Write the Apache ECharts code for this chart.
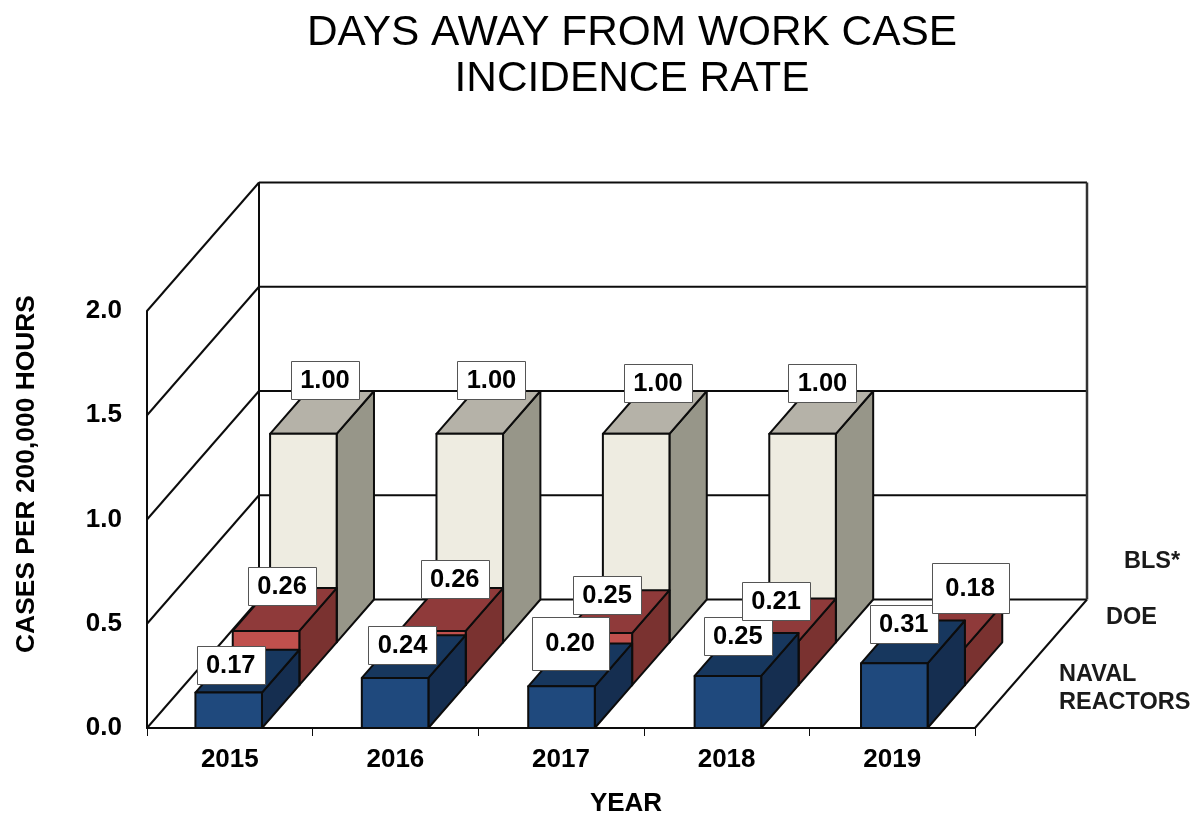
<!DOCTYPE html>
<html>
<head>
<meta charset="utf-8">
<style>html,body{margin:0;padding:0;background:#fff}#c{width:1198px;height:814px}</style>
<script src="https://cdn.jsdelivr.net/npm/echarts@6/dist/echarts.min.js"></script>
</head>
<body>
<div id="c"></div>
<script>
var categories = ['2015', '2016', '2017', '2018', '2019'];
var navalValues = [0.17, 0.24, 0.20, 0.25, 0.31];
var doeValues = [0.26, 0.26, 0.25, 0.21, 0.18];
var blsValues = [1.00, 1.00, 1.00, 1.00, null];
var gridValues = [0, 0.5, 1, 1.5, 2];

// label box placement, relative to the top front centre of each bar: [dx, dy, width, height]
var navalBoxes = [[2, -28, 68, 38], [7.4, -33.3, 68, 38], [8.5, -43.3, 77, 53], [10, -40, 68, 38], [9.4, -39.4, 68, 38]];
var doeBoxes = [[16, -45, 68, 38], [22.3, -52, 68, 38], [8.2, -38, 68, 38], [10.8, -40, 68, 38], [38.4, -60, 77, 50]];
var blsBoxes = [[21.6, -54, 68, 38], [21.7, -54, 68, 38], [21.8, -51, 68, 38], [19.9, -51, 68, 38], [0, 0, 68, 38]];

var FONT = '"Liberation Sans", Arial, sans-serif';
var DEPTH_X = 112, DEPTH_Y = -128.5, ROWS = 3, BAR_FRACTION = 0.4;
var INK = '#0c0c0c';

function wallItem(params, api) {
  var v = api.value(1);
  var band = api.size([1, 0])[0];
  var p0 = api.coord([0, v]);
  var pN = api.coord([categories.length - 1, v]);
  var left = p0[0] - band / 2, right = pN[0] + band / 2, y = p0[1];
  var style = { stroke: INK, lineWidth: 2, fill: null };
  var kids = [
    { type: 'line', shape: { x1: left, y1: y, x2: left + DEPTH_X, y2: y + DEPTH_Y }, style: style },
    { type: 'line', shape: { x1: left + DEPTH_X, y1: y + DEPTH_Y, x2: right + DEPTH_X, y2: y + DEPTH_Y }, style: style }
  ];
  if (v === 0) {
    kids.push({ type: 'line', shape: { x1: right, y1: y, x2: right + DEPTH_X, y2: y + DEPTH_Y }, style: style });
  }
  if (v === gridValues[gridValues.length - 1]) {
    var base = api.coord([0, 0])[1] + DEPTH_Y;
    kids.push({ type: 'line', shape: { x1: left + DEPTH_X, y1: y + DEPTH_Y, x2: left + DEPTH_X, y2: base }, style: style });
    kids.push({ type: 'line', shape: { x1: right + DEPTH_X, y1: y + DEPTH_Y, x2: right + DEPTH_X, y2: base }, style: { stroke: '#333', lineWidth: 2.5, fill: null } });
  }
  return { type: 'group', children: kids };
}

function barRenderer(row, colors) {
  return function (params, api) {
    var v = api.value(1);
    if (isNaN(v)) return null;
    var i = api.value(0);
    var band = api.size([1, 0])[0];
    var half = band * BAR_FRACTION / 2;
    var dx = DEPTH_X / ROWS, dy = DEPTH_Y / ROWS;
    var top = api.coord([i, v]);
    var bottom = api.coord([i, 0]);
    var cx = top[0] + row * dx;
    var L = cx - half, R = cx + half;
    var T = top[1] + row * dy, B = bottom[1] + row * dy;
    var edge = { stroke: INK, lineWidth: 2, lineJoin: 'round' };
    function sty(f) { return Object.assign({ fill: f }, edge); }
    return { type: 'group', children: [
      { type: 'polygon', shape: { points: [[R, T], [R + dx, T + dy], [R + dx, B + dy], [R, B]] }, style: sty(colors.side) },
      { type: 'polygon', shape: { points: [[L, T], [R, T], [R + dx, T + dy], [L + dx, T + dy]] }, style: sty(colors.top) },
      { type: 'rect', shape: { x: L, y: T, width: R - L, height: B - T }, style: sty(colors.front) }
    ] };
  };
}

function labelRenderer(row, boxes) {
  return function (params, api) {
    var v = api.value(1);
    if (isNaN(v)) return null;
    var i = api.value(0);
    var box = boxes[i];
    var top = api.coord([i, v]);
    var cx = top[0] + row * DEPTH_X / ROWS + box[0];
    var cy = top[1] + row * DEPTH_Y / ROWS + box[1];
    return { type: 'group', children: [
      { type: 'rect', shape: { x: Math.round(cx - box[2] / 2) + 0.5, y: Math.round(cy - box[3] / 2) + 0.5, width: box[2], height: box[3] },
        style: { fill: '#fff', stroke: '#555', lineWidth: 1 } },
      { type: 'text', x: cx, y: cy + 1, style: { text: v.toFixed(2), fill: '#000', font: 'bold 25.5px ' + FONT, textAlign: 'center', textVerticalAlign: 'middle' } }
    ] };
  };
}

function pairs(values) { return values.map(function (v, i) { return [i, v]; }); }

function barSeries(name, values, row, colors) {
  return { name: name, type: 'custom', xAxisIndex: 1, yAxisIndex: 1, z: 3 + (ROWS - row), silent: true,
    renderItem: barRenderer(row, colors), encode: { x: 0, y: 1 }, data: pairs(values) };
}
function labelSeries(name, values, row, boxes, z) {
  return { name: name, type: 'custom', xAxisIndex: 1, yAxisIndex: 1, z: z, silent: true,
    renderItem: labelRenderer(row, boxes), encode: { x: 0, y: 1 }, data: pairs(values) };
}

var axisText = { fontFamily: FONT, fontWeight: 'bold', fontSize: 26, color: '#000' };

var chart = echarts.init(document.getElementById('c'), null, { renderer: 'canvas' });
chart.setOption({
  animation: false,
  backgroundColor: '#fff',
  title: {
    text: 'DAYS AWAY FROM WORK CASE\nINCIDENCE RATE',
    left: 627, top: 5, textAlign: 'center',
    textStyle: { fontFamily: FONT, fontWeight: 'normal', fontSize: 42.4, lineHeight: 46.5, color: '#000' }
  },
  grid: [
    { left: 147, width: 828, top: 311, height: 417, outerBoundsMode: 'none' },
    { left: 145.5, width: 832, top: 311, height: 417, outerBoundsMode: 'none' }
  ],
  xAxis: [
    { type: 'category', gridIndex: 0, data: categories, boundaryGap: true,
      axisLine: { lineStyle: { color: INK, width: 2 } },
      axisTick: { show: true, length: 8, lineStyle: { color: INK, width: 1 } },
      axisLabel: Object.assign({ margin: 19 }, axisText),
      splitLine: { show: false },
      name: 'YEAR', nameLocation: 'middle', nameGap: 63,
      nameTextStyle: Object.assign({}, axisText, { padding: [0, 0, 0, 130] }) },
    { type: 'category', gridIndex: 1, data: categories, show: false }
  ],
  yAxis: [
    { type: 'value', gridIndex: 0, min: 0, max: 2, interval: 0.5,
      axisLine: { show: true, lineStyle: { color: INK, width: 2 } },
      axisTick: { show: false }, splitLine: { show: false },
      axisLabel: Object.assign({ margin: 25, padding: [4, 0, 0, 0], formatter: function (v) { return v.toFixed(1); } }, axisText),
      name: 'CASES PER 200,000 HOURS', nameLocation: 'middle', nameRotate: 90, nameGap: 107,
      nameTextStyle: Object.assign({}, axisText, { fontSize: 26.4, padding: [0, 0, 0, 91] }) },
    { type: 'value', gridIndex: 1, min: 0, max: 2, interval: 0.5, show: false }
  ],
  graphic: [
    { type: 'text', left: 1124, top: 550, style: { text: 'BLS*', font: 'bold 23.5px ' + FONT, fill: '#1a1a1a' } },
    { type: 'text', left: 1106, top: 606, style: { text: 'DOE', font: 'bold 23.5px ' + FONT, fill: '#1a1a1a' } },
    { type: 'text', left: 1059, top: 661, style: { text: 'NAVAL\nREACTORS', font: 'bold 23.5px ' + FONT, lineHeight: 27.5, fill: '#1a1a1a' } }
  ],
  series: [
    { name: 'walls', type: 'custom', xAxisIndex: 0, yAxisIndex: 0, z: 2, silent: true,
      renderItem: wallItem, encode: { x: 0, y: 1 }, data: gridValues.map(function (v) { return [0, v]; }) },
    barSeries('BLS*', blsValues, 2, { front: '#EEECE1', top: '#B5B2A8', side: '#979689' }),
    barSeries('DOE', doeValues, 1, { front: '#C0504D', top: '#8F3A3A', side: '#7A3230' }),
    barSeries('NAVAL REACTORS', navalValues, 0, { front: '#1F497D', top: '#17375E', side: '#152E50' }),
    labelSeries('NAVAL REACTORS labels', navalValues, 0, navalBoxes, 10),
    labelSeries('DOE labels', doeValues, 1, doeBoxes, 11),
    labelSeries('BLS* labels', blsValues, 2, blsBoxes, 12)
  ]
});
</script>
</body>
</html>
